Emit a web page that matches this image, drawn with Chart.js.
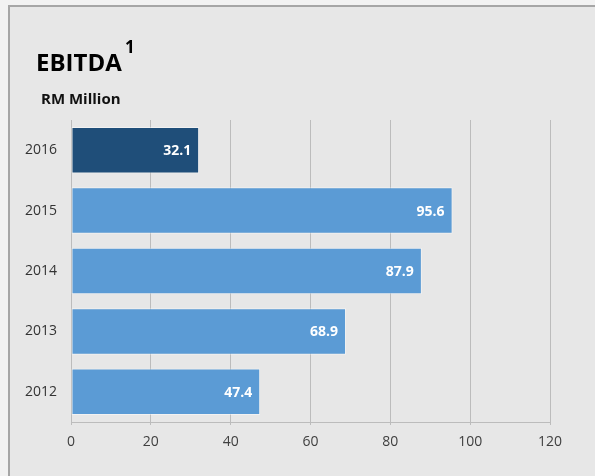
<!DOCTYPE html>
<html>
<head>
<meta charset="utf-8">
<script src="https://cdn.jsdelivr.net/npm/chart.js@4"></script>
<style>
  html, body { margin: 0; padding: 0; background: #f2f2f2; }
  #frame {
    position: absolute; left: 8px; top: 5px; width: 587px; height: 471px;
    background: #e7e7e7; border-top: 2px solid #a6a6a6; border-left: 2px solid #a6a6a6;
    box-sizing: border-box;
  }
  #wrap { position: absolute; left: 0; top: 0; width: 595px; height: 476px; }
</style>
</head>
<body>
<div id="frame"></div>
<div id="wrap"><canvas id="chart" width="595" height="476"></canvas></div>
<script>
const years = ['2016', '2015', '2014', '2013', '2012'];
const ebitda = [32.1, 95.6, 87.9, 68.9, 47.4];
const barColors = ['#1f4e79', '#5b9bd5', '#5b9bd5', '#5b9bd5', '#5b9bd5'];
const xTicks = [0, 20, 40, 60, 80, 100, 120];

const font = "'Open Sans', sans-serif";

const titles = {
  id: 'titles',
  afterDraw(chart) {
    const c = chart.ctx;
    c.save();
    c.fillStyle = '#000';
    c.textBaseline = 'alphabetic';
    c.font = `bold 24px ${font}`;
    c.fillText('EBITDA', 36, 71);
    c.font = `bold 17px ${font}`;
    c.fillText('1', 125, 53);
    c.fillStyle = '#111';
    c.font = `bold 15px ${font}`;
    c.fillText('RM Million', 41, 104);
    c.restore();
  }
};

const barLabels = {
  id: 'barLabels',
  afterDatasetsDraw(chart) {
    const c = chart.ctx;
    const meta = chart.getDatasetMeta(0);
    c.save();
    c.fillStyle = '#fff';
    c.font = `bold 14px ${font}`;
    c.textAlign = 'right';
    c.textBaseline = 'middle';
    meta.data.forEach((bar, i) => {
      c.fillText(ebitda[i].toFixed(1), bar.x - 8, bar.y + 1);
    });
    c.restore();
  }
};

new Chart(document.getElementById('chart'), {
  type: 'bar',
  data: {
    labels: years,
    datasets: [{
      data: ebitda,
      backgroundColor: barColors,
      borderColor: 'rgba(255,255,255,0.45)',
      borderWidth: 1,
      borderSkipped: false,
      categoryPercentage: 0.77,
      barPercentage: 1,
    }],
  },
  options: {
    indexAxis: 'y',
    responsive: false,
    animation: false,
    layout: { padding: { left: 0, right: 45, top: 120, bottom: 0 } },
    plugins: { legend: { display: false }, tooltip: { enabled: false } },
    scales: {
      x: {
        min: 0, max: 120,
        afterBuildTicks(scale) { scale.ticks = xTicks.map(v => ({ value: v })); },
        afterFit(scale) { scale.height = 54; },
        grid: { color: '#bcbcbc', lineWidth: 1, tickLength: 3, drawOnChartArea: true },
        border: { color: '#bcbcbc' },
        ticks: { color: '#404040', font: { family: font, size: 14 }, padding: 9 },
      },
      y: {
        afterFit(scale) { scale.width = 71; },
        grid: { display: false },
        border: { color: '#bcbcbc' },
        ticks: { color: '#333333', font: { family: font, size: 14 }, padding: 6 },
      },
    },
  },
  plugins: [titles, barLabels],
});
</script>
</body>
</html>
